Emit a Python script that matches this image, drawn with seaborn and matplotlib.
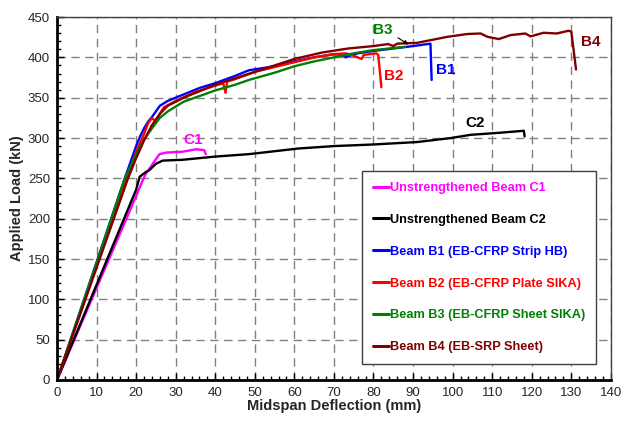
import pandas as pd
import seaborn as sns
import numpy as np
import matplotlib.pyplot as plt
from matplotlib.ticker import MultipleLocator

# load-deflection curves (deflection mm, load kN)
c1_x = [0, 10, 20, 21.7, 22.5, 24.2, 25.9, 27.6, 31.7, 35.1, 37.2, 37.6]
c1_y = [0, 114, 228, 248, 256, 268, 280, 282, 283, 286, 285, 280]

c2_x = [0, 10, 20, 20.9, 22.5, 23.3, 25, 26.7, 31.7, 40, 48.5, 61, 70, 80, 91, 99.6, 104.6, 112.1, 118, 118.2]
c2_y = [0, 118, 236, 252, 258, 260, 268, 272, 273, 277, 280, 287, 290, 292, 295, 300, 304, 306.6, 309, 302]

b1_x = [0, 10, 17, 20, 21, 22, 23, 24, 25, 26, 28, 32, 36, 40, 45, 48.5, 55, 60, 65, 70, 72, 73, 74, 76, 80, 85, 90, 94.4, 94.7]
b1_y = [0, 146, 248, 290, 302, 312, 320, 326, 333, 340, 346, 354, 362, 368, 377, 384, 389, 395, 400, 404, 403, 400, 402, 405, 408, 411, 414, 417, 372]

b2_x = [0, 10, 17, 20, 22, 23, 24, 25, 26, 27, 30, 35, 40, 42, 42.6, 43, 45, 50, 55, 60, 65, 70, 73, 75, 77, 77.5, 80.7, 81.2, 82]
b2_y = [0, 142, 243, 283, 305, 318, 325, 320, 330, 338, 346, 357, 365, 368, 356, 370, 373, 382, 388, 394, 400, 404, 405, 402, 398, 403, 405, 403, 363]

b3_x = [0, 10, 17, 20, 22, 24, 26, 28, 32, 36, 40, 45, 48.5, 55, 60, 65, 70, 75, 80, 84, 88]
b3_y = [0, 145, 248, 280, 298, 312, 325, 333, 345, 352, 359, 366, 372, 381, 389, 395, 400, 405, 409, 411, 413]

b4_x = [0, 10, 17.8, 20, 22, 24, 26, 28, 32, 36, 40, 45, 50, 55, 60, 67, 73.6, 80, 83.7, 85, 86, 91, 98.7,
        103.8, 107.1, 108.8, 111.7, 114.6, 118.4, 119.7, 123, 126.3, 129.3, 130, 131.2]
b4_y = [0, 139, 248, 275, 297, 316, 330, 340, 350, 358, 366, 374, 382, 390, 398, 406, 411, 414, 416.5, 414, 417, 418, 425.5,
        429, 429.6, 425.5, 422.7, 427.6, 429.6, 426, 430.5, 429.6, 433, 432, 385]

labels = ['Unstrengthened Beam C1', 'Unstrengthened Beam C2', 'Beam B1 (EB-CFRP Strip HB)',
          'Beam B2 (EB-CFRP Plate SIKA)', 'Beam B3 (EB-CFRP Sheet SIKA)', 'Beam B4 (EB-SRP Sheet)']
colors = ['#FF00FF', '#000000', '#0000FF', '#FF0000', '#008000', '#800000']
curves = [(c1_x, c1_y), (c2_x, c2_y), (b1_x, b1_y), (b2_x, b2_y), (b3_x, b3_y), (b4_x, b4_y)]

sns.set_style('white')
plt.rcParams['font.family'] = ['Liberation Sans', 'DejaVu Sans']

fig = plt.figure(figsize=(6.23, 4.23), dpi=100)
ax = fig.add_axes([0.0915, 0.1017, 0.889, 0.858])

for (x, y), lab, col in zip(curves, labels, colors):
    df = pd.DataFrame({'x': x, 'y': y})
    sns.lineplot(data=df, x='x', y='y', sort=False, estimator=None, color=col, lw=1.7, label=lab, ax=ax)

ax.set_xlim(0, 140)
ax.set_ylim(0, 450)
ax.xaxis.set_major_locator(MultipleLocator(10))
ax.xaxis.set_minor_locator(MultipleLocator(2))
ax.yaxis.set_major_locator(MultipleLocator(50))
ax.yaxis.set_minor_locator(MultipleLocator(10))
ax.tick_params(which='both', direction='in', labelsize=9.5, color='black')
ax.tick_params(which='major', length=5, width=1, pad=5)
ax.tick_params(which='minor', length=3, width=1)
ax.tick_params(axis='x', which='both', bottom=True, top=False)
ax.tick_params(axis='y', which='both', left=True, right=False)
ax.grid(True, which='major', color='#808080', linestyle=(0, (6, 4)), linewidth=1)

for s in ['left', 'bottom']:
    ax.spines[s].set_linewidth(2)
    ax.spines[s].set_color('black')
for s in ['top', 'right']:
    ax.spines[s].set_linewidth(1)
    ax.spines[s].set_color('#404040')

ax.set_xlabel('Midspan Deflection (mm)', fontsize=10.5, fontweight='bold', labelpad=0)
ax.set_ylabel('Applied Load (kN)', fontsize=10.5, fontweight='bold', labelpad=3)

# curve tags
ax.text(34.5, 297, 'C1', color='#FF00FF', fontsize=11, fontweight='bold', ha='center', va='center')
ax.text(105.8, 319, 'C2', color='black', fontsize=11, fontweight='bold', ha='center', va='center')
ax.text(98.2, 384, 'B1', color='#0000FF', fontsize=11, fontweight='bold', ha='center', va='center')
ax.text(85.2, 377, 'B2', color='#FF0000', fontsize=11, fontweight='bold', ha='center', va='center')
ax.text(134.8, 419, 'B4', color='#800000', fontsize=11, fontweight='bold', ha='center', va='center')
ax.annotate('B3', xy=(88.8, 416), xytext=(82.3, 434), color='#008000', fontsize=11, fontweight='bold',
            ha='center', va='center',
            arrowprops=dict(arrowstyle='-|>', color='black', lw=0.8, mutation_scale=6, shrinkA=2, shrinkB=0,
                            relpos=(1.0, 0.2)))

leg = ax.legend(loc='upper left', bbox_to_anchor=(0.551, 0.575), frameon=True, fancybox=False,
                edgecolor='#404040', framealpha=1, labelcolor='linecolor', handlelength=1.25,
                handletextpad=0.1, labelspacing=1.55, borderpad=0.85, borderaxespad=0,
                prop={'weight': 'bold', 'size': 9.2})
leg.get_frame().set_linewidth(1)
for h in leg.get_lines():
    h.set_linewidth(2.2)

plt.savefig('out.png', dpi=100)
